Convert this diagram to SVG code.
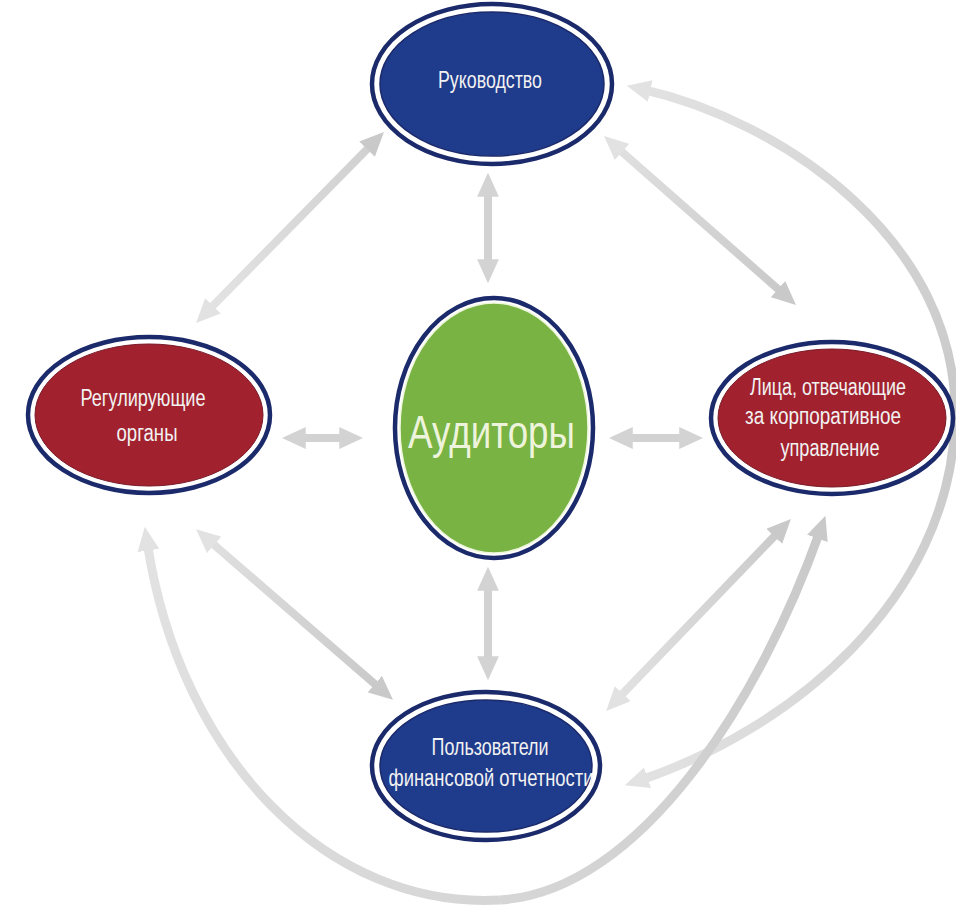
<svg xmlns="http://www.w3.org/2000/svg" width="956" height="913" viewBox="0 0 956 913">
<style>
.ring{fill:#ffffff;stroke:#1b2a6b;stroke-width:4.5}
.blue{fill:#1f3b8c;stroke:#1b2a6b;stroke-width:1.5}
.red{fill:#a1222e;stroke:#7a1a28;stroke-width:1}
.green{fill:#78b344;stroke:#eef6dc;stroke-width:1.5}
.lbl{font-family:"Liberation Sans",Arial,sans-serif;font-size:23px;fill:#f2f2f2;text-anchor:middle}
.big{font-family:"Liberation Sans",Arial,sans-serif;font-size:46px;fill:#eef4dc;text-anchor:middle}
.arr{fill:none;stroke-width:8}
.crv{fill:none;stroke-width:9}
</style>
<defs>
<marker id="hd" markerUnits="userSpaceOnUse" markerWidth="24" markerHeight="22" refX="8" refY="10" orient="auto-start-reverse" viewBox="0 0 22 20"><path d="M0,0 L22,10 L0,20 z" fill="#c9c9c9"/></marker>
<marker id="hm" markerUnits="userSpaceOnUse" markerWidth="24" markerHeight="22" refX="8" refY="10" orient="auto-start-reverse" viewBox="0 0 22 20"><path d="M0,0 L22,10 L0,20 z" fill="#d3d3d3"/></marker>
<marker id="hl" markerUnits="userSpaceOnUse" markerWidth="24" markerHeight="22" refX="8" refY="10" orient="auto-start-reverse" viewBox="0 0 22 20"><path d="M0,0 L22,10 L0,20 z" fill="#e2e2e2"/></marker>
<linearGradient id="g1" gradientUnits="userSpaceOnUse" x1="373" y1="143" x2="207" y2="312"><stop offset="0" stop-color="#d0d0d0"/><stop offset="1" stop-color="#e3e3e3"/></linearGradient>
<linearGradient id="g3" gradientUnits="userSpaceOnUse" x1="615" y1="146" x2="785" y2="295"><stop offset="0" stop-color="#e0e0e0"/><stop offset="1" stop-color="#c9c9c9"/></linearGradient>
<linearGradient id="g9" gradientUnits="userSpaceOnUse" x1="207" y1="539" x2="381" y2="690"><stop offset="0" stop-color="#e0e0e0"/><stop offset="1" stop-color="#c9c9c9"/></linearGradient>
<linearGradient id="g10" gradientUnits="userSpaceOnUse" x1="780" y1="530" x2="617" y2="700"><stop offset="0" stop-color="#cacaca"/><stop offset="1" stop-color="#e2e2e2"/></linearGradient>
<linearGradient id="c4a" gradientUnits="userSpaceOnUse" x1="642" y1="89" x2="955" y2="420"><stop offset="0" stop-color="#e2e2e2"/><stop offset="1" stop-color="#c9c9c9"/></linearGradient>
<linearGradient id="c4b" gradientUnits="userSpaceOnUse" x1="955" y1="420" x2="639" y2="780"><stop offset="0" stop-color="#c9c9c9"/><stop offset="1" stop-color="#e2e2e2"/></linearGradient>
<linearGradient id="c5a" gradientUnits="userSpaceOnUse" x1="147" y1="542" x2="500" y2="900"><stop offset="0" stop-color="#e2e2e2"/><stop offset="1" stop-color="#d6d6d6"/></linearGradient>
<linearGradient id="c5b" gradientUnits="userSpaceOnUse" x1="500" y1="900" x2="820" y2="530"><stop offset="0" stop-color="#d6d6d6"/><stop offset="1" stop-color="#c9c9c9"/></linearGradient>
</defs>
<rect width="956" height="913" fill="#ffffff"/>
<g id="connectors">
<path class="arr" stroke="url(#g1)" d="M373.2,143 L206.8,312" marker-start="url(#hd)" marker-end="url(#hl)"/>
<path class="arr" stroke="#d2d2d2" d="M488,188 L488,268" marker-start="url(#hm)" marker-end="url(#hm)"/>
<path class="arr" stroke="url(#g3)" d="M615.5,146.2 L784.5,294.8" marker-start="url(#hl)" marker-end="url(#hd)"/>
<path class="arr" stroke="#d2d2d2" d="M297,438 L348,438" marker-start="url(#hm)" marker-end="url(#hm)"/>
<path class="arr" stroke="#d2d2d2" d="M624,438 L688,438" marker-start="url(#hm)" marker-end="url(#hm)"/>
<path class="arr" stroke="#d2d2d2" d="M488,582 L488,665" marker-start="url(#hm)" marker-end="url(#hm)"/>
<path class="arr" stroke="url(#g9)" d="M207.6,539.2 L381.4,689.8" marker-start="url(#hl)" marker-end="url(#hd)"/>
<path class="arr" stroke="url(#g10)" d="M780.3,530.1 L616.7,699.9" marker-start="url(#hd)" marker-end="url(#hl)"/>
<path class="crv" stroke="url(#c4a)" d="M641.7,89.1 C780,120 960,240 955,420" marker-start="url(#hl)"/>
<path class="crv" stroke="url(#c4b)" d="M955,420 C950,600 790,730 639.3,780.5" marker-end="url(#hl)"/>
<path class="crv" stroke="url(#c5a)" d="M147.1,541.8 C180,760 330,910 500,900" marker-start="url(#hl)"/>
<path class="crv" stroke="url(#c5b)" d="M500,900 C640,891.8 760,700 820.3,530.2" marker-end="url(#hd)"/>
</g>
<g id="node-rukovodstvo">
<ellipse class="ring" cx="492" cy="84" rx="120" ry="80"/>
<ellipse class="blue" cx="492" cy="84" rx="112" ry="72"/>
<text class="lbl" x="490" y="88" textLength="104" lengthAdjust="spacingAndGlyphs">Руководство</text>
</g>
<g id="node-reguliruyushchie">
<ellipse class="ring" cx="149" cy="415" rx="121" ry="78"/>
<ellipse class="red" cx="149" cy="415" rx="114" ry="71"/>
<text class="lbl" x="143" y="406" textLength="125" lengthAdjust="spacingAndGlyphs">Регулирующие</text>
<text class="lbl" x="147" y="441" textLength="61" lengthAdjust="spacingAndGlyphs">органы</text>
</g>
<g id="node-auditory">
<ellipse class="ring" cx="494" cy="428" rx="99" ry="130"/>
<ellipse class="green" cx="494" cy="428" rx="94" ry="125"/>
<text class="big" x="491.5" y="448" textLength="167" lengthAdjust="spacingAndGlyphs">Аудиторы</text>
</g>
<g id="node-litsa">
<ellipse class="ring" cx="832" cy="418" rx="121" ry="76"/>
<ellipse class="red" cx="832" cy="418" rx="114" ry="69"/>
<text class="lbl" x="828" y="395" textLength="156" lengthAdjust="spacingAndGlyphs">Лица, отвечающие</text>
<text class="lbl" x="823" y="424" textLength="156" lengthAdjust="spacingAndGlyphs">за корпоративное</text>
<text class="lbl" x="830" y="456" textLength="99" lengthAdjust="spacingAndGlyphs">управление</text>
</g>
<g id="node-polzovateli">
<ellipse class="ring" cx="486" cy="766" rx="114" ry="74"/>
<ellipse class="blue" cx="486" cy="766" rx="106" ry="66"/>
<text class="lbl" x="490" y="755" textLength="117" lengthAdjust="spacingAndGlyphs">Пользователи</text>
<text class="lbl" x="491" y="786" textLength="205" lengthAdjust="spacingAndGlyphs">финансовой отчетности</text>
</g>
</svg>
